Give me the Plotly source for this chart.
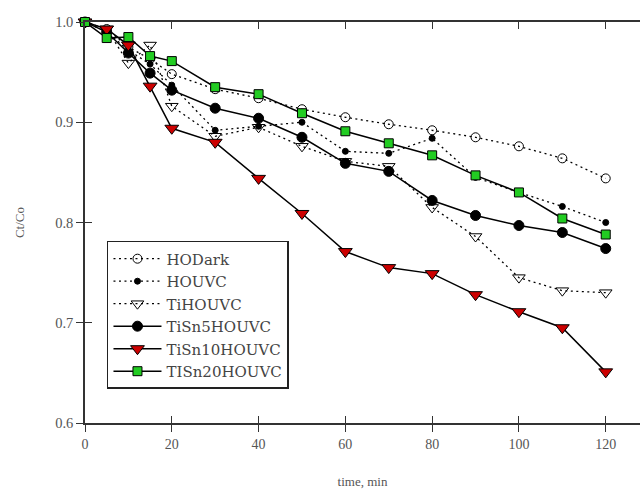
import plotly.graph_objects as go

time = [0, 5, 10, 15, 20, 30, 40, 50, 60, 70, 80, 90, 100, 110, 120]

hodark = [1.0, 0.993, 0.975, 0.963, 0.948, 0.933, 0.924, 0.913, 0.905, 0.898, 0.892, 0.885, 0.876, 0.864, 0.844]
houvc = [1.0, 0.99, 0.972, 0.958, 0.937, 0.892, 0.896, 0.900, 0.871, 0.869, 0.884, 0.845, 0.830, 0.816, 0.800]
tihouvc = [1.0, 0.993, 0.959, 0.977, 0.916, 0.886, 0.895, 0.876, 0.861, 0.856, 0.815, 0.786, 0.745, 0.732, 0.730]
tisn5 = [1.0, 0.99, 0.969, 0.949, 0.932, 0.914, 0.904, 0.885, 0.859, 0.851, 0.822, 0.807, 0.797, 0.790, 0.774]
tisn10 = [1.0, 0.993, 0.977, 0.936, 0.894, 0.880, 0.844, 0.809, 0.771, 0.755, 0.749, 0.728, 0.711, 0.695, 0.651]
tisn20 = [1.0, 0.984, 0.985, 0.966, 0.961, 0.935, 0.928, 0.909, 0.891, 0.879, 0.867, 0.847, 0.830, 0.804, 0.788]

names = ["HODark", "HOUVC", "TiHOUVC", "TiSn5HOUVC", "TiSn10HOUVC", "TISn20HOUVC"]
xticks = [0, 20, 40, 60, 80, 100, 120]
yticks = [0.6, 0.7, 0.8, 0.9, 1.0]

FONT = "Liberation Serif"
GREY = "#555555"
DOT = "2px,3.5px"

fig = go.Figure()

def add(y, name, dash, symbol, size, fill, lw=1.5):
    fig.add_trace(go.Scatter(
        x=time, y=y, name=name, mode="lines+markers",
        line=dict(color="black", width=lw, dash=dash),
        marker=dict(symbol=symbol, size=size, color=fill,
                    line=dict(color="black", width=1)),
        cliponaxis=False,
    ))

add(hodark, names[0], DOT, "circle-open", 9, "black", 1.3)
add(houvc, names[1], DOT, "circle", 6, "black", 1.3)
add(tihouvc, names[2], DOT, "triangle-down-open", 11, "black", 1.3)
add(tisn5, names[3], "solid", "circle", 10, "black")
add(tisn10, names[4], "solid", "triangle-down", 12, "#cc0000")
add(tisn20, names[5], "solid", "square", 9, "#22cc22")

# empty trace hosting the overlay axes that draw the inner tick halves
fig.add_trace(go.Scatter(x=[], y=[], xaxis="x2", yaxis="y2", showlegend=False, hoverinfo="skip"))

xr = [0, 127.9]
yr = [0.6, 1.0]

fig.update_layout(
    width=640, height=489,
    margin=dict(l=85, r=0, t=22, b=66),
    plot_bgcolor="white", paper_bgcolor="white",
    font=dict(family=FONT, color=GREY, size=13),
    showlegend=True,
    legend=dict(
        x=0.0396, y=0.454, xanchor="left", yanchor="top",
        bordercolor="#222222", borderwidth=1.5, bgcolor="white",
        font=dict(family="DejaVu Serif", size=15, color="#444444"),
        tracegroupgap=0, itemwidth=48,
    ),
    xaxis=dict(
        range=xr, tickvals=xticks, automargin=False,
        showgrid=False, zeroline=False, showline=True,
        linecolor="#333333", linewidth=1.5,
        ticks="outside", ticklen=7, tickwidth=1.3, tickcolor="#333333",
        tickfont=dict(family=FONT, size=14, color=GREY),
        title=dict(text="time, min", font=dict(family=FONT, size=13, color=GREY), standoff=26),
    ),
    yaxis=dict(
        range=yr, tickvals=yticks, tickformat=".1f", automargin=False,
        showgrid=False, zeroline=False, showline=True,
        linecolor="#333333", linewidth=1.5,
        ticks="outside", ticklen=7, tickwidth=1.3, tickcolor="#333333",
        tickfont=dict(family=FONT, size=14.5, color=GREY),
        title=dict(text="Ct/Co", font=dict(family=FONT, size=13, color=GREY), standoff=28),
    ),
    xaxis2=dict(
        range=xr, tickvals=xticks, overlaying="x", side="bottom", automargin=False,
        showgrid=False, zeroline=False, showline=True, mirror="ticks",
        linecolor="#333333", linewidth=1.5,
        ticks="inside", ticklen=7, tickwidth=1.3, tickcolor="#333333",
        showticklabels=False,
    ),
    yaxis2=dict(
        range=yr, tickvals=yticks, overlaying="y", side="left", automargin=False,
        showgrid=False, zeroline=False, showline=True,
        linecolor="#333333", linewidth=1.5,
        ticks="inside", ticklen=7, tickwidth=1.3, tickcolor="#333333",
        showticklabels=False,
    ),
)

fig.write_html(
    "out.html",
    config={"displayModeBar": False},
    post_script="document.body.style.margin='0px';document.body.style.overflow='hidden';",
)
